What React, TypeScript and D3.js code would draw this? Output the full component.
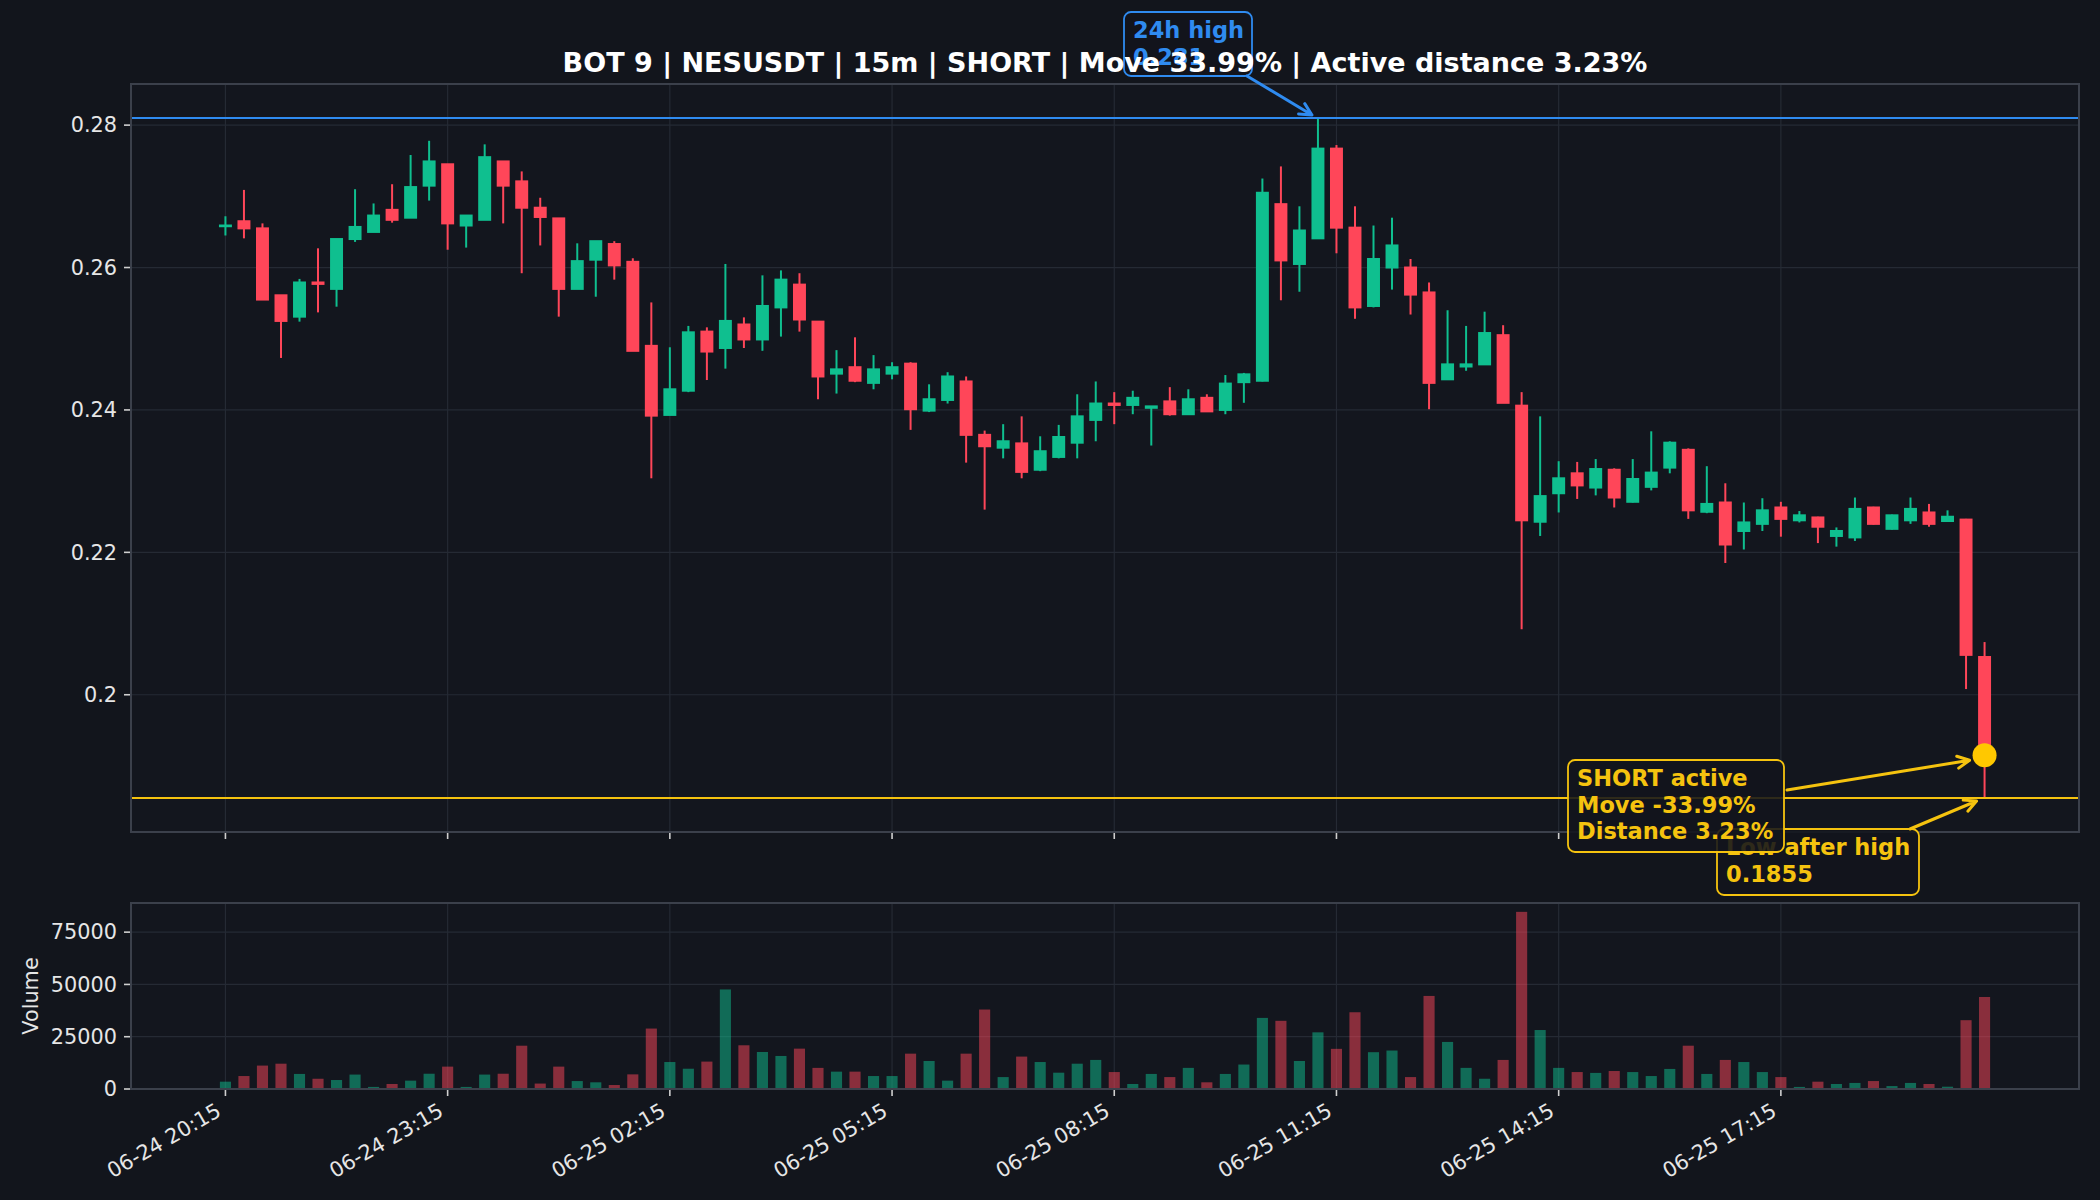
import React from "react";
import * as d3 from "d3";

// 15m candles, 06-24 20:15 .. 06-25 20:00
const opens = [
  0.2658, 0.2665, 0.2655, 0.2561, 0.2531, 0.2579, 0.257, 0.264, 0.265, 0.2681, 0.267, 0.2715,
  0.2745, 0.2659, 0.2667, 0.2749, 0.2721, 0.2684, 0.2669, 0.257, 0.2611, 0.2633, 0.2608, 0.249,
  0.2393, 0.2427, 0.251, 0.2487, 0.252, 0.2499, 0.2544, 0.2576, 0.2524, 0.2451, 0.246, 0.2438,
  0.2451, 0.2465, 0.2399, 0.2414, 0.244, 0.2365, 0.2347, 0.2353, 0.2316, 0.2334, 0.2354, 0.2386,
  0.2409, 0.2407, 0.2403, 0.2412, 0.2394, 0.2417, 0.24, 0.2439, 0.2441, 0.2689, 0.2605, 0.2641,
  0.2767, 0.2656, 0.2546, 0.26, 0.26, 0.2565, 0.2443, 0.2461, 0.2464, 0.2505, 0.2406, 0.2243,
  0.2283, 0.2311, 0.2291, 0.2316, 0.2271, 0.2292, 0.2319, 0.2344, 0.2257, 0.227, 0.223, 0.224,
  0.2263, 0.2245, 0.2249, 0.2223, 0.2221, 0.2263, 0.2233, 0.2245, 0.2256, 0.2244, 0.2246, 0.2053,
];
const highs = [
  0.2672, 0.2709, 0.2662, 0.2561, 0.2584, 0.2627, 0.264, 0.271, 0.269, 0.2717, 0.2758, 0.2778,
  0.2745, 0.2673, 0.2773, 0.2749, 0.2735, 0.2698, 0.2669, 0.2634, 0.2637, 0.2637, 0.2613, 0.2551,
  0.2488, 0.2518, 0.2516, 0.2605, 0.253, 0.2589, 0.2596, 0.2592, 0.2524, 0.2484, 0.2502, 0.2477,
  0.2467, 0.2467, 0.2436, 0.2453, 0.2447, 0.2371, 0.238, 0.2391, 0.2363, 0.2379, 0.2422, 0.244,
  0.2425, 0.2427, 0.2405, 0.2432, 0.2429, 0.2422, 0.2449, 0.2452, 0.2725, 0.2742, 0.2686, 0.281,
  0.2772, 0.2686, 0.2659, 0.267, 0.2612, 0.2579, 0.254, 0.2518, 0.2538, 0.2519, 0.2425, 0.2391,
  0.2328, 0.2327, 0.2331, 0.2318, 0.2331, 0.237, 0.2356, 0.2346, 0.2321, 0.2297, 0.227, 0.2276,
  0.2271, 0.2258, 0.225, 0.2235, 0.2277, 0.2264, 0.2253, 0.2277, 0.2268, 0.2259, 0.2247, 0.2074,
];
const lows = [
  0.2645, 0.2641, 0.2555, 0.2473, 0.2524, 0.2537, 0.2545, 0.2636, 0.265, 0.2663, 0.267, 0.2694,
  0.2625, 0.2628, 0.2667, 0.2662, 0.2592, 0.2631, 0.2531, 0.257, 0.2559, 0.2583, 0.2483, 0.2304,
  0.2393, 0.2425, 0.2442, 0.2458, 0.2487, 0.2483, 0.2503, 0.251, 0.2415, 0.2423, 0.2439, 0.2429,
  0.2443, 0.2372, 0.2397, 0.2409, 0.2326, 0.226, 0.2332, 0.2304, 0.2314, 0.2332, 0.2332, 0.2356,
  0.238, 0.2394, 0.235, 0.2392, 0.2393, 0.2398, 0.2394, 0.241, 0.244, 0.2554, 0.2566, 0.2641,
  0.262, 0.2528, 0.2544, 0.2569, 0.2534, 0.2401, 0.2443, 0.2455, 0.2464, 0.241, 0.2092, 0.2223,
  0.2256, 0.2275, 0.228, 0.2263, 0.227, 0.2287, 0.2311, 0.2247, 0.2255, 0.2185, 0.2204, 0.223,
  0.2222, 0.2242, 0.2213, 0.2208, 0.2216, 0.2239, 0.2232, 0.224, 0.2236, 0.2243, 0.2008, 0.1855,
];
const closes = [
  0.2659, 0.2655, 0.2555, 0.2525, 0.2579, 0.2577, 0.264, 0.2657, 0.2673, 0.2667, 0.2713, 0.2749,
  0.2662, 0.2673, 0.2755, 0.2715, 0.2684, 0.2671, 0.257, 0.2609, 0.2637, 0.2603, 0.2483, 0.2392,
  0.2429, 0.2509, 0.2482, 0.2525, 0.2499, 0.2546, 0.2583, 0.2527, 0.2447, 0.2457, 0.2441, 0.2457,
  0.246, 0.2401, 0.2415, 0.2447, 0.2365, 0.2349, 0.2356, 0.2313, 0.2342, 0.2362, 0.2391, 0.2409,
  0.2407, 0.2417, 0.2405, 0.2394, 0.2415, 0.2398, 0.2437, 0.245, 0.2705, 0.261, 0.2652, 0.2767,
  0.2656, 0.2544, 0.2612, 0.2631, 0.2562, 0.2438, 0.2464, 0.2464, 0.2508, 0.241, 0.2245, 0.2279,
  0.2304, 0.2294, 0.2317, 0.2277, 0.2303, 0.2312, 0.2354, 0.2259, 0.2268, 0.2211, 0.2242, 0.2259,
  0.2247, 0.2252, 0.2236, 0.223, 0.2261, 0.224, 0.2252, 0.2261, 0.224, 0.225, 0.2056, 0.1915,
];
const volumes = [
  3500, 6200, 11200, 12100, 7200, 4900, 4300, 6900, 1000, 2400, 4000, 7300,
  10700, 1000, 6900, 7300, 20700, 2600, 10700, 3800, 3200, 1900, 7000, 28900,
  12900, 9700, 13100, 47600, 20900, 17700, 15800, 19300, 10100, 8300, 8300, 6200,
  6200, 16900, 13400, 4000, 16900, 38000, 5700, 15500, 12900, 7800, 12100, 13900,
  8100, 2400, 7200, 5700, 10100, 3200, 7200, 11700, 34000, 32600, 13400, 27100,
  19200, 36700, 17600, 18400, 5700, 44500, 22500, 10100, 4900, 13900, 84700, 28200,
  10100, 8100, 7700, 8600, 8100, 6200, 9600, 20700, 7200, 13900, 12900, 8100,
  5700, 1000, 3500, 2400, 2900, 3800, 1400, 2900, 2400, 1100, 32900, 44000,
];

const xTickIndex = [0, 12, 24, 36, 48, 60, 72, 84];
const xTickLabels = [
  "06-24 20:15", "06-24 23:15", "06-25 02:15", "06-25 05:15",
  "06-25 08:15", "06-25 11:15", "06-25 14:15", "06-25 17:15",
];
const priceTicks = [0.2, 0.22, 0.24, 0.26, 0.28];
const priceTickLabels = ["0.2", "0.22", "0.24", "0.26", "0.28"];
const volumeTicks = [0, 25000, 50000, 75000];
const volumeTickLabels = ["0", "25000", "50000", "75000"];

const high24h = 0.281;
const highIndex = 59;
const lowAfterHigh = 0.1855;
const activeIndex = 95;
const activePrice = 0.1915;
const title = "BOT 9 | NESUSDT | 15m | SHORT | Move 33.99% | Active distance 3.23%";
const highNote = ["24h high", "0.281"];
const shortNote = ["SHORT active", "Move -33.99%", "Distance 3.23%"];
const lowNote = ["Low after high", "0.1855"];

const BG = "#12151c";
const UP = "#0fbf8f";
const DOWN = "#ff4659";
const BLUE = "#2f8bf0";
const YELLOW = "#f5c30f";
const GRID = "#252a34";
const SPINE = "#3b404b";
const TEXT = "#e6e6e6";
const FONT = "DejaVu Sans, sans-serif";

const App: React.FC = () => {
  const svgRef = React.useRef<SVGSVGElement | null>(null);

  React.useEffect(() => {
    document.body.style.margin = "0";
    document.body.style.background = BG;
    if (!svgRef.current) return;
    const svg = d3.select(svgRef.current);
    svg.selectAll("*").remove();

    const width = 2100;
    const height = 1200;
    const left = 131;
    const right = 2079;
    const priceTop = 84;
    const priceBottom = 832;
    const volTop = 903;
    const volBottom = 1089;

    svg.attr("width", width).attr("height", height).style("display", "block");
    svg.append("rect").attr("width", width).attr("height", height).attr("fill", BG);

    const x = d3.scaleLinear().domain([-5.1, 100.1]).range([left, right]);
    const step = x(1) - x(0);
    const yMin = lowAfterHigh - (high24h - lowAfterHigh) * 0.05;
    const yMax = high24h + (high24h - lowAfterHigh) * 0.05;
    const y = d3.scaleLinear().domain([yMin, yMax]).range([priceBottom, priceTop]);
    const yv = d3
      .scaleLinear()
      .domain([0, (d3.max(volumes) as number) * 1.05])
      .range([volBottom, volTop]);

    const drawFrame = (top: number, bottom: number, yScale: d3.ScaleLinear<number, number>, ticks: number[], labels: string[], showX: boolean) => {
      const g = svg.append("g");
      g.append("rect")
        .attr("x", left).attr("y", top)
        .attr("width", right - left).attr("height", bottom - top)
        .attr("fill", "#13161e");
      // grid
      g.selectAll(".gx").data(xTickIndex).enter().append("line")
        .attr("x1", (d) => x(d)).attr("x2", (d) => x(d))
        .attr("y1", top).attr("y2", bottom)
        .attr("stroke", GRID).attr("stroke-width", 1.2);
      g.selectAll(".gy").data(ticks).enter().append("line")
        .attr("x1", left).attr("x2", right)
        .attr("y1", (d) => yScale(d)).attr("y2", (d) => yScale(d))
        .attr("stroke", GRID).attr("stroke-width", 1.2);
      // ticks
      g.selectAll(".ty").data(ticks).enter().append("line")
        .attr("x1", left - 7).attr("x2", left)
        .attr("y1", (d) => yScale(d)).attr("y2", (d) => yScale(d))
        .attr("stroke", "#cfcfcf").attr("stroke-width", 1.6);
      g.selectAll(".tyl").data(ticks).enter().append("text")
        .attr("x", left - 14).attr("y", (d) => yScale(d))
        .attr("dy", "0.35em")
        .attr("text-anchor", "end")
        .attr("font-family", FONT).attr("font-size", 20.8)
        .attr("fill", TEXT)
        .text((d, i) => labels[i]);
      g.selectAll(".tx").data(xTickIndex).enter().append("line")
        .attr("x1", (d) => x(d)).attr("x2", (d) => x(d))
        .attr("y1", bottom).attr("y2", bottom + 7)
        .attr("stroke", "#cfcfcf").attr("stroke-width", 1.6);
      if (showX) {
        g.selectAll(".txl").data(xTickIndex).enter().append("text")
          .attr("transform", (d) => `translate(${x(d) - 3}, ${bottom + 26}) rotate(-30)`)
          .attr("text-anchor", "end")
          .attr("font-family", FONT).attr("font-size", 20.8)
          .attr("fill", TEXT)
          .text((d, i) => xTickLabels[i]);
      }
      return g;
    };

    const drawSpines = (top: number, bottom: number) => {
      svg.append("rect")
        .attr("x", left).attr("y", top)
        .attr("width", right - left).attr("height", bottom - top)
        .attr("fill", "none").attr("stroke", SPINE).attr("stroke-width", 2);
    };

    // ---- price panel
    drawFrame(priceTop, priceBottom, y, priceTicks, priceTickLabels, false);
    const clip = svg.append("clipPath").attr("id", "pclip");
    clip.append("rect").attr("x", left).attr("y", priceTop)
      .attr("width", right - left).attr("height", priceBottom - priceTop);

    const idx = d3.range(opens.length);
    const candles = svg.append("g").attr("clip-path", "url(#pclip)");
    candles.selectAll(".wick").data(idx).enter().append("line")
      .attr("x1", (i) => x(i)).attr("x2", (i) => x(i))
      .attr("y1", (i) => y(highs[i])).attr("y2", (i) => y(lows[i]))
      .attr("stroke", (i) => (closes[i] >= opens[i] ? UP : DOWN))
      .attr("stroke-width", 2);
    const bw = step * 0.7;
    candles.selectAll(".body").data(idx).enter().append("rect")
      .attr("x", (i) => x(i) - bw / 2)
      .attr("y", (i) => y(Math.max(opens[i], closes[i])) - 1)
      .attr("width", bw)
      .attr("height", (i) => Math.abs(y(opens[i]) - y(closes[i])) + 2)
      .attr("fill", (i) => (closes[i] >= opens[i] ? UP : DOWN));

    // level lines
    svg.append("line")
      .attr("x1", left).attr("x2", right)
      .attr("y1", y(high24h)).attr("y2", y(high24h))
      .attr("stroke", BLUE).attr("stroke-width", 2.2);
    svg.append("line")
      .attr("x1", left).attr("x2", right)
      .attr("y1", y(lowAfterHigh)).attr("y2", y(lowAfterHigh))
      .attr("stroke", YELLOW).attr("stroke-width", 2.2);

    drawSpines(priceTop, priceBottom);

    // ---- volume panel
    drawFrame(volTop, volBottom, yv, volumeTicks, volumeTickLabels, true);
    const vw = step * 0.6;
    svg.append("g").selectAll("rect").data(idx).enter().append("rect")
      .attr("x", (i) => x(i) - vw / 2)
      .attr("y", (i) => yv(volumes[i]))
      .attr("width", vw)
      .attr("height", (i) => yv(0) - yv(volumes[i]))
      .attr("fill", (i) => (closes[i] >= opens[i] ? UP : DOWN))
      .attr("opacity", 0.5);
    drawSpines(volTop, volBottom);

    svg.append("text")
      .attr("transform", `translate(38, ${(volTop + volBottom) / 2}) rotate(-90)`)
      .attr("text-anchor", "middle")
      .attr("font-family", FONT).attr("font-size", 20.8)
      .attr("fill", TEXT)
      .text("Volume");

    // ---- annotations
    const arrow = (x1: number, y1: number, x2: number, y2: number, color: string) => {
      const a = Math.atan2(y2 - y1, x2 - x1);
      const hl = 12;
      const hw = 6;
      const p1 = [x2 - hl * Math.cos(a) + hw * Math.sin(a), y2 - hl * Math.sin(a) - hw * Math.cos(a)];
      const p2 = [x2 - hl * Math.cos(a) - hw * Math.sin(a), y2 - hl * Math.sin(a) + hw * Math.cos(a)];
      svg.append("path")
        .attr("d", `M${x1},${y1}L${x2},${y2}M${p1[0]},${p1[1]}L${x2},${y2}L${p2[0]},${p2[1]}`)
        .attr("fill", "none").attr("stroke", color)
        .attr("stroke-width", 3).attr("stroke-linecap", "round").attr("stroke-linejoin", "round");
    };

    const note = (bx: number, by: number, bwid: number, bh: number, lines: string[], color: string) => {
      svg.append("rect")
        .attr("x", bx).attr("y", by).attr("width", bwid).attr("height", bh)
        .attr("rx", 7)
        .attr("fill", BG).attr("fill-opacity", 0.88)
        .attr("stroke", color).attr("stroke-width", 1.8);
      svg.append("g").selectAll("text").data(lines).enter().append("text")
        .attr("x", bx + 9)
        .attr("y", (d, i) => by + 26 + i * 26.5)
        .attr("font-family", FONT).attr("font-size", 22.5).attr("font-weight", "bold")
        .attr("fill", color)
        .text((d) => d);
    };

    // 24h high
    note(1124, 12, 128, 64, highNote, BLUE);
    arrow(1247, 76, x(highIndex) - 6, y(high24h) - 3, BLUE);

    // low after high (under the SHORT box)
    note(1717, 829, 202, 66, lowNote, YELLOW);
    arrow(1910, 829, x(activeIndex) - 8, y(lowAfterHigh) + 3, YELLOW);

    // SHORT active
    note(1568, 760, 216, 92, shortNote, YELLOW);
    arrow(1787, 790, x(activeIndex) - 15, y(activePrice) + 5, YELLOW);
    svg.append("circle")
      .attr("cx", x(activeIndex)).attr("cy", y(activePrice)).attr("r", 12)
      .attr("fill", "#ffc800");

    // title on top
    svg.append("text")
      .attr("x", (left + right) / 2).attr("y", 72)
      .attr("text-anchor", "middle")
      .attr("font-family", FONT).attr("font-size", 27).attr("font-weight", "bold")
      .attr("fill", "#ffffff")
      .text(title);
  }, []);

  return <svg ref={svgRef}></svg>;
};

export default App;
